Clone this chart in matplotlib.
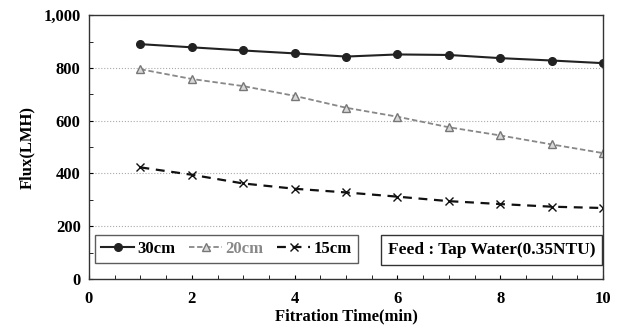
import matplotlib.pyplot as plt
from matplotlib.ticker import MultipleLocator, FuncFormatter

plt.rcParams['font.family'] = ['Liberation Serif', 'DejaVu Serif']
plt.rcParams['font.weight'] = 'bold'

# Data
time_min = [1, 2, 3, 4, 5, 6, 7, 8, 9, 10]
flux_30cm = [890, 878, 866, 855, 843, 851, 849, 837, 828, 818]
flux_20cm = [795, 758, 731, 694, 649, 615, 575, 544, 510, 477]
flux_15cm = [423, 395, 362, 342, 328, 312, 295, 284, 274, 269]

fig = plt.figure(figsize=(6.18, 3.29), dpi=100)
ax = fig.add_axes([0.144, 0.152, 0.832, 0.802])

ax.plot(time_min, flux_30cm, color='#222222', linestyle='-', linewidth=1.5,
        marker='o', markersize=5.5, label='30cm')
ax.plot(time_min, flux_20cm, color='#888888', linestyle=(0, (3, 1.5)), linewidth=1.3,
        marker='^', markersize=6, markerfacecolor='#d8d8d8', markeredgecolor='#777777',
        label='20cm')
ax.plot(time_min, flux_15cm, color='#111111', linestyle=(0, (4, 3)), linewidth=1.6,
        marker='x', markersize=6, markeredgewidth=1.0, label='15cm')

ax.set_xlim(0, 10)
ax.set_ylim(0, 1000)
ax.xaxis.set_major_locator(MultipleLocator(2))
ax.xaxis.set_minor_locator(MultipleLocator(0.5))
ax.yaxis.set_major_locator(MultipleLocator(200))
ax.yaxis.set_minor_locator(MultipleLocator(100))
ax.yaxis.set_major_formatter(FuncFormatter(lambda v, p: f"{int(v):,}"))

ax.tick_params(axis='both', which='both', direction='in', labelsize=12)
ax.tick_params(axis='x', which='both', length=3, pad=9)
ax.tick_params(axis='y', which='both', length=3, pad=6)
ax.grid(axis='y', which='major', color='#aaaaaa', linestyle=':', linewidth=0.8)
ax.set_axisbelow(True)
for s in ax.spines.values():
    s.set_color('#333333')
    s.set_linewidth(1.0)

ax.set_xlabel('Fitration Time(min)', fontsize=12, fontweight='bold', labelpad=1)
ax.set_ylabel('Flux(LMH)', fontsize=12, fontweight='bold', labelpad=6)

leg = ax.legend(loc='lower left', bbox_to_anchor=(0.012, 0.06), ncol=3, fontsize=12,
                frameon=True, fancybox=False, edgecolor='#333333', handlelength=2.0,
                handletextpad=0.2, columnspacing=0.8, borderpad=0.35, borderaxespad=0)
leg.get_frame().set_linewidth(1.0)
leg.get_texts()[1].set_color('#888888')

ax.text(0.985, 0.11, 'Feed : Tap Water(0.35NTU)', transform=ax.transAxes,
        ha='right', va='center', fontsize=12.5, fontweight='bold',
        bbox=dict(boxstyle='square,pad=0.4', facecolor='white', edgecolor='#333333',
                  linewidth=1.0))

fig.savefig('out.png', dpi=100)
